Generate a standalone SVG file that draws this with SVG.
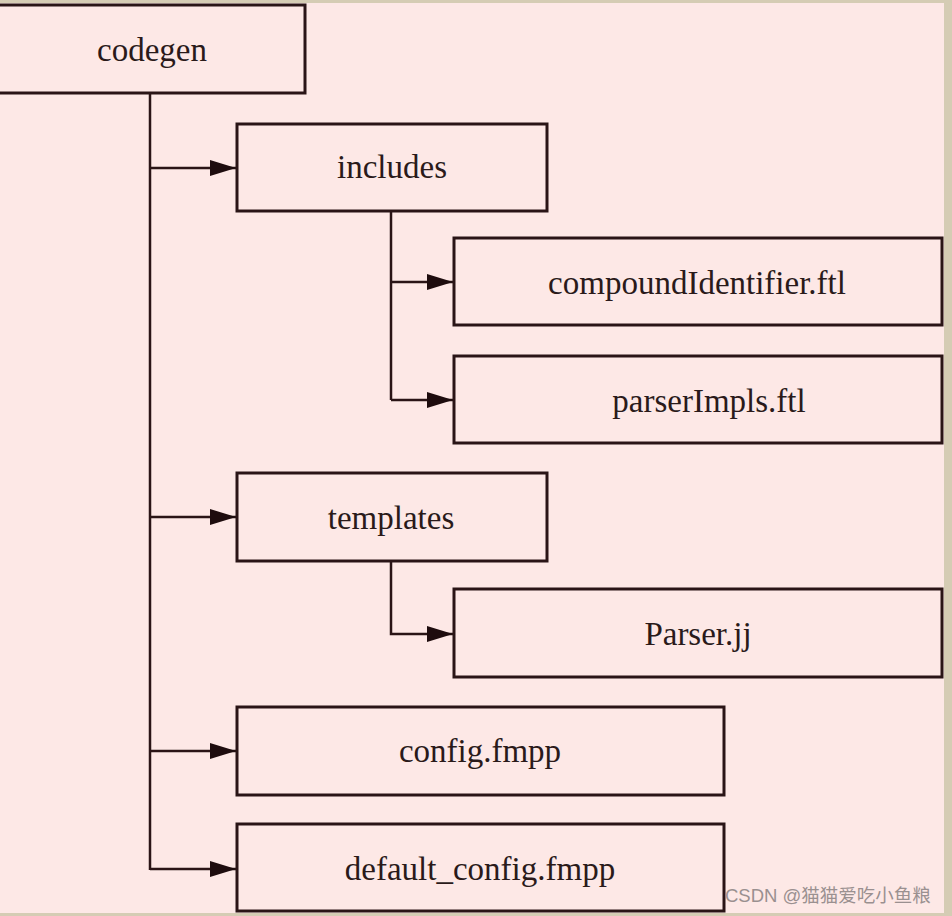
<svg xmlns="http://www.w3.org/2000/svg" width="952" height="916" viewBox="0 0 952 916">
  <defs>
    <style>
      .box { fill: none; stroke: #2a1416; stroke-width: 3; }
      .lbl { font-family: "Liberation Serif", "Times New Roman", serif; font-size: 33px; fill: #2a1a1a; text-anchor: middle; }
      .con { fill: none; stroke: #2a1416; stroke-width: 2.5; }
      .wm { font-family: "Liberation Sans", "Noto Sans CJK SC", sans-serif; font-size: 18.5px; fill: #9a9090; }
    </style>
    <marker id="arr" viewBox="0 0 26 16" refX="26" refY="8" markerWidth="26" markerHeight="16" markerUnits="userSpaceOnUse" orient="auto">
      <path d="M0,0 L26,8 L0,16 Z" fill="#1e0c0e"/>
    </marker>
  </defs>
  <rect x="0" y="0" width="952" height="916" fill="#d5ccb4"/>
  <rect x="0" y="3" width="944" height="910" fill="#fde8e6"/>

  <g id="connectors">
    <path class="con" d="M150,93 V870"/>
    <path class="con" d="M150,168 H236" marker-end="url(#arr)"/>
    <path class="con" d="M150,517 H236" marker-end="url(#arr)"/>
    <path class="con" d="M150,751 H236" marker-end="url(#arr)"/>
    <path class="con" d="M150,869 H236" marker-end="url(#arr)"/>
    <path class="con" d="M391,211 V400"/>
    <path class="con" d="M391,282 H453" marker-end="url(#arr)"/>
    <path class="con" d="M391,400 H453" marker-end="url(#arr)"/>
    <path class="con" d="M391,561 V634 H453" marker-end="url(#arr)"/>
  </g>

  <g id="codegen">
    <rect class="box" x="-4" y="5" width="309" height="88"/>
    <text class="lbl" x="152" y="61">codegen</text>
  </g>
  <g id="includes">
    <rect class="box" x="237" y="124" width="310" height="87"/>
    <text class="lbl" x="392" y="178">includes</text>
  </g>
  <g id="compoundIdentifier">
    <rect class="box" x="454" y="238" width="488" height="87"/>
    <text class="lbl" x="697" y="294">compoundIdentifier.ftl</text>
  </g>
  <g id="parserImpls">
    <rect class="box" x="454" y="356" width="488" height="87"/>
    <text class="lbl" x="709" y="412">parserImpls.ftl</text>
  </g>
  <g id="templates">
    <rect class="box" x="237" y="473" width="310" height="88"/>
    <text class="lbl" x="391" y="529">templates</text>
  </g>
  <g id="parserjj">
    <rect class="box" x="454" y="589" width="488" height="88"/>
    <text class="lbl" x="698" y="645">Parser.jj</text>
  </g>
  <g id="config">
    <rect class="box" x="237" y="707" width="487" height="88"/>
    <text class="lbl" x="480" y="762">config.fmpp</text>
  </g>
  <g id="default_config">
    <rect class="box" x="237" y="824" width="487" height="87"/>
    <text class="lbl" x="480" y="880">default_config.fmpp</text>
  </g>

  <text class="wm" x="725" y="902">CSDN @猫猫爱吃小鱼粮</text>
</svg>
